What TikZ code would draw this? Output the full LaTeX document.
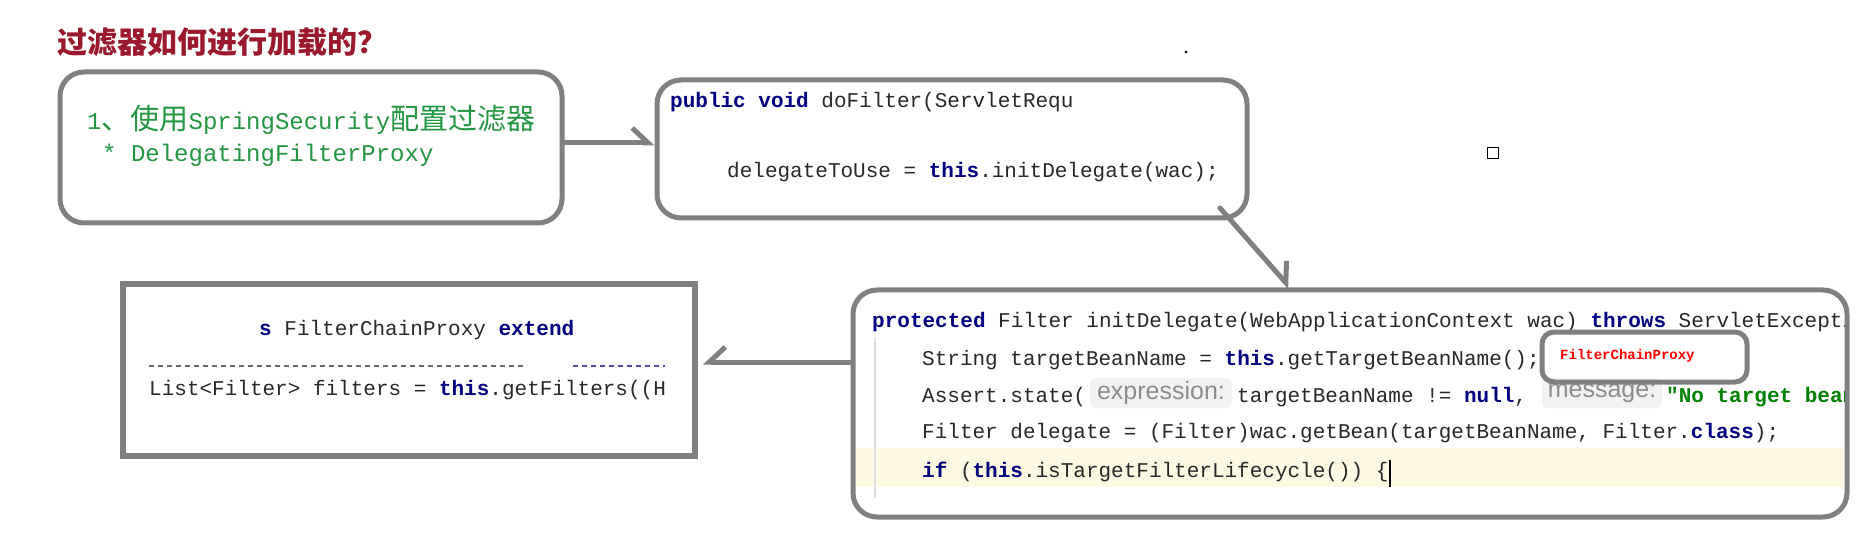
\documentclass[tikz,border=0pt]{standalone}
\usepackage{fontspec}
\setmonofont{Liberation Mono}
\newfontfamily\zhfont{Noto Sans CJK SC}
\newfontfamily\hintfont{Liberation Sans}
\usetikzlibrary{arrows.meta,calc}
\definecolor{boxgray}{RGB}{128,128,128}
\definecolor{titlered}{RGB}{155,25,45}
\definecolor{notegreen}{RGB}{35,150,65}
\definecolor{kwblue}{RGB}{0,0,128}
\definecolor{codegray}{RGB}{40,40,40}
\definecolor{strgreen}{RGB}{0,128,0}
\definecolor{hintbg}{RGB}{242,242,242}
\definecolor{hintfg}{RGB}{140,140,140}
\definecolor{linebg}{RGB}{253,248,226}
\newcommand{\kw}[1]{{\color{kwblue}\bfseries #1}}
\newcommand{\zhtxt}[1]{{\zhfont\fontsize{29}{29}\selectfont #1}}
\tikzset{barb/.tip={Straight Barb[harpoon,length=16pt,width=30pt]}}
\tikzset{box/.style={draw=boxgray, line width=5pt, rounded corners=24pt, inner sep=0pt}}
\tikzset{flow/.style={boxgray, line width=5pt, line cap=round, -barb}}
\tikzset{code/.style={anchor=west, inner sep=0pt, text=codegray, font=\ttfamily\fontsize{21}{21}\selectfont, text height=15pt, text depth=5pt}}
\tikzset{note/.style={anchor=west, inner sep=0pt, text=notegreen, font=\ttfamily\fontsize{24}{24}\selectfont}}
\tikzset{hint/.style={fill=hintbg, rounded corners=6pt, text=hintfg, font=\hintfont\fontsize{25}{25}\selectfont, inner sep=0pt, minimum height=30pt}}
\tikzset{cut/.style={line width=1.5pt, dash pattern=on 5pt off 4pt, codegray!70}}

\begin{document}
\begin{tikzpicture}[x=1pt,y=-1pt]
    \useasboundingbox[fill=white] (0,0) rectangle (1863,537);
    \node [anchor=west, inner sep=0pt, text=titlered, font=\zhfont\bfseries\fontsize{30}{30}\selectfont] (title) at (57,42) {过滤器如何进行加载的？};
    % boxes
    \node [box, minimum width=502pt, minimum height=151pt] (conf) at (311,147.5) {};
    \node [box, minimum width=590pt, minimum height=138pt] (dofilter) at (952,149) {};
    \node [box, minimum width=994pt, minimum height=227pt] (init) at (1350,403.5) {};
    \node [box, sharp corners, line width=6pt, minimum width=572pt, minimum height=172pt] (chain) at (409,370) {};
    % box 1
    \node [note] (step) at (87,120) {1\zhtxt{、使用}SpringSecurity\zhtxt{配置过滤器}};
    \node [note] (proxy) at (102,155) {* DelegatingFilterProxy};
    % box 2
    \begin{scope}
        \clip (660,85) rectangle (1072,125);
        \node [code] (sig) at (670,103) {\kw{public void} doFilter(ServletRequ};
    \end{scope}
    \node [code] (call) at (727,173) {delegateToUse = \kw{this}.initDelegate(wac);};
    % box 3
    \fill [linebg] (856,448) rectangle (1844,487);
    \draw [line width=1.5pt, black!12] (875,337) -- (875,498);
    \begin{scope}
        \clip (856,293) rectangle (1844,514);
        \node [code] (head) at (872,322) {\kw{protected} Filter initDelegate(WebApplicationContext wac) \kw{throws} ServletExcepti};
        \node [code] (name) at (922,360) {String targetBeanName = \kw{this}.getTargetBeanName();};
        \node [code] (assert) at (922,397) {Assert.state(};
        \node [hint, minimum width=142pt] (exprhint) at (1161,393) {expression:};
        \node [code] (check) at (1237,397) {targetBeanName != \kw{null},};
        \node [hint, minimum width=120pt] (msghint) at (1602,393) {message:};
        \node [code, text=strgreen] (msg) at (1666,397) {\bfseries "No target bean};
        \node [code] (bean) at (922,433) {Filter delegate = (Filter)wac.getBean(targetBeanName, Filter.\kw{class});};
        \node [code] (cond) at (922,472) {\kw{if} (\kw{this}.isTargetFilterLifecycle()) \{};
    \end{scope}
    \draw [line width=2.5pt] (1390,460) -- (1390,487);
    \node [box, rounded corners=12pt, minimum width=205pt, minimum height=50pt] (beanbox) at (1644.5,357) {};
    \node [anchor=west, inner sep=0pt, text=red, font=\ttfamily\bfseries\fontsize{14}{14}\selectfont] (beanname) at (1560,356) {FilterChainProxy};
    % box 4
    \node [code] (cls) at (259,330) {\kw{s} FilterChainProxy \kw{extend}};
    \draw [cut] (149,366) -- (527,366);
    \draw [cut, kwblue!70] (573,366) -- (665,366);
    \node [code] (list) at (149,390) {List<Filter> filters = \kw{this}.getFilters((H};
    % arrows
    \draw [flow] ([yshift=4.5pt]conf.east) -- ([yshift=4.5pt]conf.east -| dofilter.west);
    \draw [flow] ([shift={(-29.5pt,12.5pt)}]dofilter.south east) -- ([xshift=-60pt]init.north);
    \draw [flow, -{barb[swap]}, shorten >=5pt] ([yshift=41.5pt]init.west) -- ([yshift=41.5pt]init.west -| chain.east);
    % marks
    \node [draw, line width=1.8pt, minimum size=11pt, inner sep=0pt] (mark) at (1493,153) {};
    \node [circle, fill, inner sep=0pt, minimum size=3pt] (speck) at (1186,52) {};
\end{tikzpicture}
\end{document}
